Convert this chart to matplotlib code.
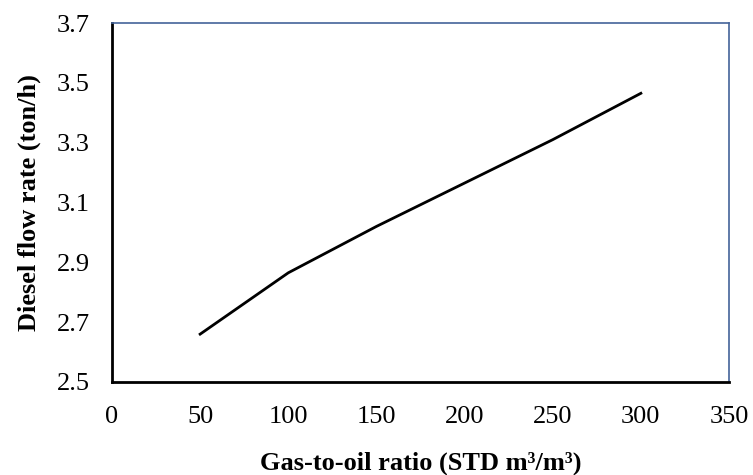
import matplotlib.pyplot as plt
import numpy as np

# Data
gor = [50, 100, 150, 200, 250, 300]
diesel_flow = [2.66, 2.865, 3.02, 3.165, 3.31, 3.465]

x_ticks = [0, 50, 100, 150, 200, 250, 300, 350]
y_ticks = [2.5, 2.7, 2.9, 3.1, 3.3, 3.5, 3.7]

plt.rcParams['font.family'] = ['Liberation Serif', 'DejaVu Serif']

fig = plt.figure(figsize=(7.53, 4.75), dpi=100)
ax = fig.add_axes([112 / 753, 1 - 382 / 475, 617 / 753, 359 / 475])

ax.plot(gor, diesel_flow, color='black', linewidth=2)

ax.set_xlim(0, 350)
ax.set_ylim(2.5, 3.7)
ax.set_xticks(x_ticks)
ax.set_yticks(y_ticks)
ax.set_yticklabels(['{:.1f}'.format(v) for v in y_ticks])
ax.tick_params(length=0, labelsize=19)
ax.tick_params(axis='x', pad=17)
ax.tick_params(axis='y', pad=16)

ax.spines['left'].set_color('black')
ax.spines['bottom'].set_color('black')
ax.spines['left'].set_linewidth(2)
ax.spines['bottom'].set_linewidth(2)
ax.spines['top'].set_color('#44649A')
ax.spines['right'].set_color('#44649A')
ax.spines['top'].set_linewidth(1.2)
ax.spines['right'].set_linewidth(1.2)

ax.set_xlabel('Gas-to-oil ratio (STD m³/m³)', fontsize=19, fontweight='bold', labelpad=17)
ax.set_ylabel('Diesel flow rate (ton/h)', fontsize=19, fontweight='bold', labelpad=11)

plt.savefig('out.png')
